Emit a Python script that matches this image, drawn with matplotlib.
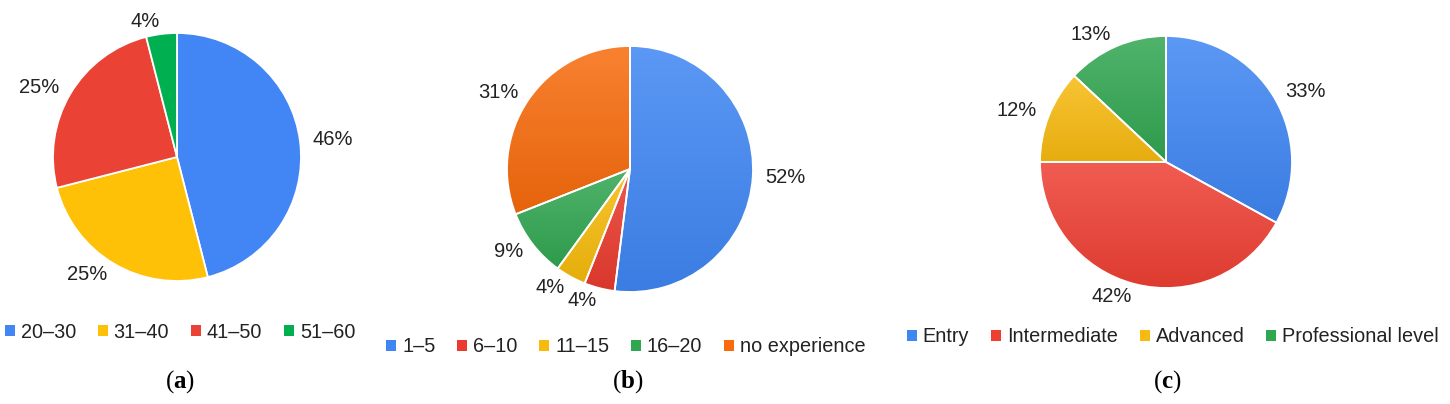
import numpy as np
import matplotlib.pyplot as plt
from matplotlib.patches import Patch
from matplotlib.colors import to_rgb

# data
age_labels = ['20–30', '31–40', '41–50', '51–60']
age_values = [46, 25, 25, 4]
age_colors = ['#4285F4', '#FFC107', '#EA4335', '#00AF50']

exp_labels = ['1–5', '6–10', '11–15', '16–20', 'no experience']
exp_values = [52, 4, 4, 9, 31]
exp_colors = ['#3F86F3', '#EA3B2E', '#F6BB0C', '#31A651', '#F76B0C']

lvl_labels = ['Entry', 'Intermediate', 'Advanced', 'Professional level']
lvl_values = [33, 42, 12, 13]
lvl_colors = ['#3F86F3', '#EE3F33', '#F7BA10', '#31A651']

captions = ['a', 'b', 'c']

plt.rcParams['font.family'] = ['Liberation Sans', 'DejaVu Sans']
plt.rcParams['mathtext.fontset'] = 'custom'
plt.rcParams['mathtext.bf'] = 'Liberation Serif:bold'
plt.rcParams['mathtext.rm'] = 'Liberation Serif'

W, H = 1450, 404
fig = plt.figure(figsize=(W / 100, H / 100), dpi=100)

# pie centre x, y (px from top), radius, legend centre x, y, caption x, gradient?
layout = [
    (177, 157, 124, 180, 332, 180, False),
    (630, 169, 123, 626, 347, 628, True),
    (1166, 162, 126, 1173, 337, 1167, True),
]
charts = [
    (age_labels, age_values, age_colors),
    (exp_labels, exp_values, exp_colors),
    (lvl_labels, lvl_values, lvl_colors),
]


def shade(c, f):
    c = np.array(to_rgb(c))
    if f > 0:
        return c + (1 - c) * f
    return c * (1 + f)


for (labels, values, colors), (cx, cy, r, lx, ly, capx, grad), cap in zip(charts, layout, captions):
    half = 1.25 * r
    ax = fig.add_axes([(cx - half) / W, (H - cy - half) / H, 2 * half / W, 2 * half / H])
    wedges, texts = ax.pie(values, colors=colors, startangle=90, counterclock=False,
                           labels=[f'{v}%' for v in values], labeldistance=1.1,
                           wedgeprops=dict(edgecolor='white', linewidth=1.3),
                           textprops=dict(fontsize=14.5, color='#222222'))
    if grad:
        # google-style soft vertical gradient inside each slice
        for w, c in zip(wedges, colors):
            v = w.get_path().vertices
            top, bot = shade(c, 0.15), shade(c, -0.07)
            t = np.linspace(0, 1, 64)[:, None]
            img = (top[None, :] * (1 - t) + bot[None, :] * t)[:, None, :]
            im = ax.imshow(img, extent=(v[:, 0].min(), v[:, 0].max(), v[:, 1].min(), v[:, 1].max()),
                           aspect='auto', origin='upper', zorder=1, interpolation='bilinear')
            im.set_clip_path(w)
            w.set_facecolor('none')
            w.set_zorder(2)
    ax.set_xlim(-1.25, 1.25)
    ax.set_ylim(-1.25, 1.25)
    ax.axis('off')
    handles = [Patch(facecolor=c, edgecolor='none') for c in colors]
    fig.legend(handles, labels, loc='center', bbox_to_anchor=(lx / W, 1 - ly / H),
               ncol=len(labels), frameon=False, fontsize=14.3,
               handlelength=0.5, handleheight=0.5, handletextpad=0.3,
               columnspacing=1.1, labelcolor='#222222')
    fig.text(capx / W, 1 - 382 / H, '($\\mathbf{' + cap + '}$)', ha='center', va='center',
             fontsize=18, family='Liberation Serif')

plt.savefig('out.png', dpi=100)
